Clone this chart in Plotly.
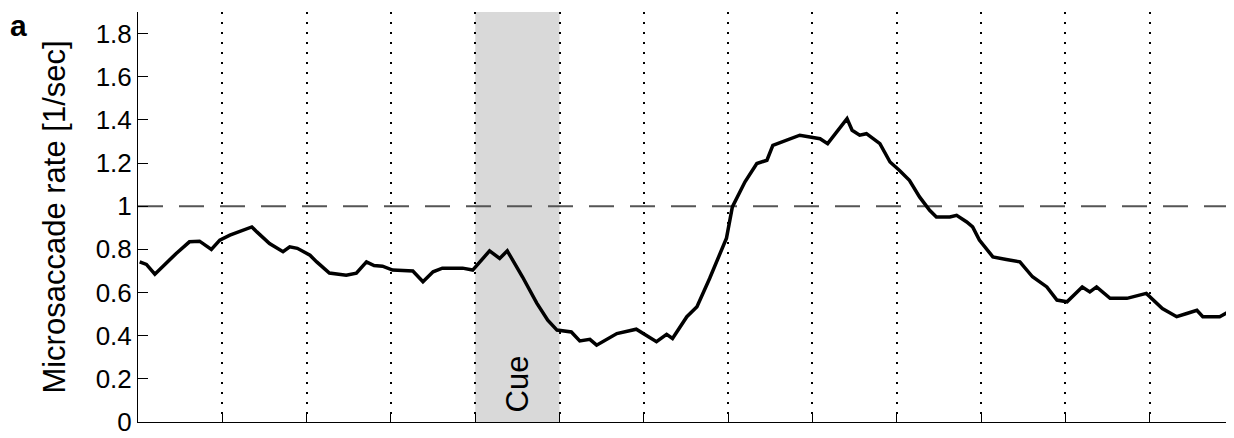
import plotly.graph_objects as go

# Time (ms, relative to cue onset) and microsaccade rate (1/sec)
time_ms = [-398, -390, -380, -371, -355, -339, -327, -313, -303, -291, -276, -265, -259, -244,
           -228, -220, -211, -196, -188, -173, -153, -141, -129, -120, -110, -98, -74,
           -62, -50, -39, -15, -3, 17, 29, 38, 56, 73, 86, 97, 114, 124, 136,
           144, 168, 191, 215, 227, 234, 251, 263, 278, 298, 305, 320, 334, 346,
           353, 369, 385, 397, 409, 418, 429, 441, 447, 456, 464, 480, 492, 503,
           515, 527, 539, 547, 563, 571, 583, 590, 598, 614, 630, 646, 661, 678,
           690, 702, 720, 729, 737, 753, 773, 796, 815, 832, 844, 856, 863, 883, 897]
rate = [0.742, 0.73, 0.685, 0.72, 0.78, 0.835, 0.838, 0.80, 0.843, 0.866, 0.889, 0.904, 0.881, 0.827,
        0.789, 0.812, 0.805, 0.773, 0.742, 0.69, 0.68, 0.69, 0.742, 0.725, 0.722, 0.704, 0.70,
        0.65, 0.696, 0.713, 0.713, 0.704, 0.793, 0.758, 0.793, 0.673, 0.551, 0.472, 0.426, 0.417, 0.376, 0.383,
        0.356, 0.41, 0.43, 0.372, 0.406, 0.387, 0.488, 0.534, 0.665, 0.852, 0.997, 1.113, 1.198, 1.213,
        1.282, 1.306, 1.329, 1.321, 1.313, 1.29, 1.344, 1.406, 1.352, 1.329, 1.336, 1.29, 1.205, 1.167,
        1.12, 1.043, 0.981, 0.95, 0.95, 0.958, 0.927, 0.904, 0.843, 0.765, 0.753, 0.742, 0.673, 0.626,
        0.565, 0.557, 0.626, 0.603, 0.626, 0.573, 0.573, 0.596, 0.526, 0.488, 0.503, 0.518, 0.488, 0.488, 0.518]

x_range = [-400, 900]
grid_times = [-300, -200, -100, 0, 100, 200, 300, 400, 500, 600, 700, 800]
y_ticks = [0, 0.2, 0.4, 0.6, 0.8, 1, 1.2, 1.4, 1.6, 1.8]
y_tick_labels = ["0", "0.2", "0.4", "0.6", "0.8", "1", "1.2", "1.4", "1.6", "1.8"]
y_range = [0, 1.9]
cue_start, cue_end = 0, 100
baseline_rate = 1.0

FONT = "Liberation Sans, Arial, Helvetica, sans-serif"

# page has an 8px body margin: size the figure so the plot area lands where the reference has it
PAGE_OFF = 8
FIG_W, FIG_H = 1234 - PAGE_OFF, 438 - PAGE_OFF
M_L, M_R, M_T, M_B = 138 - PAGE_OFF, 0, 12 - PAGE_OFF, 16

fig = go.Figure()

# Cue shading
fig.add_shape(type="rect", xref="x", yref="y", x0=cue_start, x1=cue_end,
              y0=y_range[0], y1=y_range[1], fillcolor="#d9d9d9",
              line=dict(width=0), layer="below")

# Baseline dashed line
fig.add_trace(go.Scatter(x=x_range, y=[baseline_rate, baseline_rate], mode="lines",
                         line=dict(color="#555555", width=2, dash="25px,16px"),
                         hoverinfo="skip", showlegend=False))

# Rate curve
fig.add_trace(go.Scatter(x=time_ms, y=rate, mode="lines",
                         line=dict(color="black", width=3.5), showlegend=False))

fig.add_annotation(x=(cue_start + cue_end) / 2, y=0.176, xref="x", yref="y",
                   text="Cue", textangle=-90, showarrow=False,
                   font=dict(family=FONT, size=31, color="black"))

plot_w = FIG_W - M_L - M_R
plot_h = FIG_H - M_T - M_B
# panel letter 'a' near the figure's top-left corner (figure pixel coords)
a_left_px, a_top_px = 1, 0
fig.add_annotation(x=(a_left_px - M_L) / plot_w, y=1 + (M_T - a_top_px) / plot_h,
                   xref="paper", yref="paper", xanchor="left", yanchor="top",
                   text="<b>a</b>", showarrow=False, borderpad=0,
                   font=dict(family=FONT, size=30, color="black"))

fig.update_layout(
    width=FIG_W, height=FIG_H,
    margin=dict(l=M_L, r=M_R, t=M_T, b=M_B),
    paper_bgcolor="white", plot_bgcolor="white",
    font=dict(family=FONT, color="black"),
    xaxis=dict(range=x_range, tickmode="array", tickvals=grid_times, showticklabels=False,
               ticks="inside", ticklen=10, tickcolor="black", tickwidth=1,
               showgrid=True, gridcolor="black", gridwidth=1.5, griddash="2px,8px",
               showline=True, linecolor="black", linewidth=1, zeroline=False,
               mirror=False, automargin=False),
    yaxis=dict(range=y_range, tickmode="array", tickvals=y_ticks, ticktext=y_tick_labels,
               ticks="inside", ticklen=10, tickcolor="black", tickwidth=1,
               tickfont=dict(family=FONT, size=26, color="black"),
               showgrid=False, zeroline=False, showline=True, linecolor="black",
               linewidth=1, automargin=False,
               title=dict(text="Microsaccade rate [1/sec]", standoff=20,
                          font=dict(family=FONT, size=31, color="black"))),
)

fig.write_html("out.html")
